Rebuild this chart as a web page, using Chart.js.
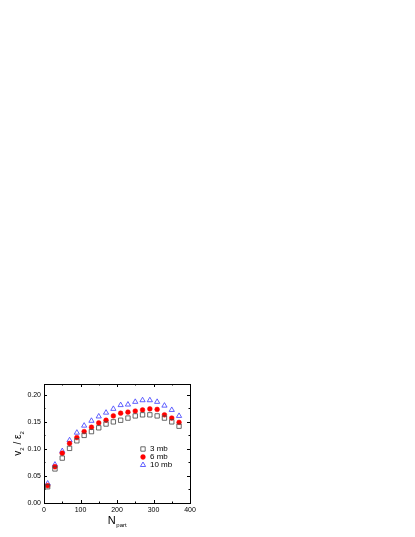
<!DOCTYPE html>
<html>
<head>
<meta charset="utf-8">
<script src="https://cdn.jsdelivr.net/npm/chart.js@4"></script>
<style>
  html, body { margin: 0; padding: 0; background: #fff; }
  canvas { display: block; }
</style>
</head>
<body>
<canvas id="v2Chart" width="415" height="537"></canvas>
<script>
// N_part bins
var npart = [10, 30, 50, 70, 90, 110, 130, 150, 170, 190, 210, 230, 250, 270, 290, 310, 330, 350, 370];

// v2/eps2 for the three cross sections
var v2_3mb = [0.030, 0.063, 0.083, 0.101, 0.115, 0.125, 0.132, 0.139, 0.146, 0.150, 0.153, 0.157, 0.161, 0.163, 0.163, 0.161, 0.157, 0.150, 0.142];
var v2_6mb = [0.032, 0.067, 0.092, 0.110, 0.121, 0.132, 0.140, 0.148, 0.153, 0.161, 0.166, 0.168, 0.170, 0.172, 0.174, 0.173, 0.163, 0.157, 0.149];
var v2_10mb = [0.036, 0.071, 0.096, 0.116, 0.130, 0.143, 0.152, 0.160, 0.167, 0.174, 0.181, 0.182, 0.187, 0.190, 0.190, 0.187, 0.180, 0.172, 0.161];

var seriesLabels = ['3 mb', '6 mb', '10 mb'];
var xTicks = [0, 100, 200, 300, 400];
var yTicks = [0, 0.05, 0.10, 0.15, 0.20];

var FONT = "'Liberation Sans', Arial, sans-serif";

function toPoints(ys) {
    return npart.map(function (x, i) { return { x: x, y: ys[i] }; });
}

// frame with inward ticks on all four sides
var framePlugin = {
    id: 'frame',
    afterDraw: function (chart) {
        var ctx = chart.ctx;
        var a = chart.chartArea;
        var xs = chart.scales.x;
        var ys = chart.scales.y;
        ctx.save();
        ctx.strokeStyle = '#000';
        ctx.lineWidth = 1;
        ctx.strokeRect(a.left + 0.5, a.top + 0.5, a.right - a.left, a.bottom - a.top);

        ctx.beginPath();
        for (var v = 0; v <= 400; v += 50) {
            var px = Math.round(xs.getPixelForValue(v)) + 0.5;
            var len = (v % 100 === 0) ? 3 : 1.5;
            ctx.moveTo(px, a.bottom); ctx.lineTo(px, a.bottom - len);
            ctx.moveTo(px, a.top); ctx.lineTo(px, a.top + len);
        }
        for (var k = 0; k <= 8; k++) {
            var val = k * 0.025;
            var py = Math.round(ys.getPixelForValue(val)) + 0.5;
            var l2 = (k % 2 === 0) ? 3 : 1.5;
            ctx.moveTo(a.left, py); ctx.lineTo(a.left + l2, py);
            ctx.moveTo(a.right, py); ctx.lineTo(a.right - l2, py);
        }
        ctx.stroke();
        ctx.restore();
    }
};

// axis titles with subscripts and the legend box
var labelsPlugin = {
    id: 'labels',
    afterDraw: function (chart) {
        var ctx = chart.ctx;
        var a = chart.chartArea;
        ctx.save();
        ctx.fillStyle = '#000';
        ctx.textBaseline = 'alphabetic';

        // x title: N_part
        var cx = (a.left + a.right) / 2;
        ctx.font = '11px ' + FONT;
        var wN = ctx.measureText('N').width;
        ctx.font = '6px ' + FONT;
        var wSub = ctx.measureText('part').width;
        var x0 = cx - (wN + wSub) / 2;
        ctx.font = '11px ' + FONT;
        ctx.textAlign = 'left';
        ctx.fillText('N', x0, 524);
        ctx.font = '6px ' + FONT;
        ctx.fillText('part', x0 + wN + 0.5, 527);

        // y title: v2 / eps2, rotated
        ctx.translate(21, (a.top + a.bottom) / 2);
        ctx.rotate(-Math.PI / 2);
        var parts = [['v', 10, 0], ['2', 6, 3], [' / ', 10, 0], ['\u03b5', 10, 0], ['2', 6, 3]];
        var total = 0;
        parts.forEach(function (p) {
            ctx.font = p[1] + 'px ' + FONT;
            total += ctx.measureText(p[0]).width;
        });
        var x = -total / 2;
        parts.forEach(function (p) {
            ctx.font = p[1] + 'px ' + FONT;
            ctx.fillText(p[0], x, p[2]);
            x += ctx.measureText(p[0]).width;
        });
        ctx.setTransform(1, 0, 0, 1, 0, 0);

        // legend
        var rowsY = [449, 457, 465];
        chart.data.datasets.forEach(function (ds, i) {
            ctx.fillStyle = ds.backgroundColor;
            ctx.strokeStyle = ds.borderColor;
            ctx.lineWidth = ds.borderWidth;
            Chart.helpers.drawPoint(ctx, {
                pointStyle: ds.pointStyle,
                radius: ds.pointRadius,
                borderWidth: ds.borderWidth,
                rotation: 0
            }, 143, rowsY[i]);
            ctx.fillStyle = '#000';
            ctx.font = '8px ' + FONT;
            ctx.textAlign = 'left';
            ctx.textBaseline = 'middle';
            ctx.fillText(ds.label, 150, rowsY[i]);
        });
        ctx.restore();
    }
};

var ctx = document.getElementById('v2Chart').getContext('2d');
var chart = new Chart(ctx, {
    type: 'scatter',
    data: {
        datasets: [{
            label: seriesLabels[0],
            data: toPoints(v2_3mb),
            pointStyle: 'rect',
            pointRadius: 3.1,
            backgroundColor: 'rgba(0,0,0,0)',
            borderColor: '#444444',
            borderWidth: 0.8
        }, {
            label: seriesLabels[1],
            data: toPoints(v2_6mb),
            pointStyle: 'circle',
            pointRadius: 2.4,
            backgroundColor: '#ff0000',
            borderColor: '#ff0000',
            borderWidth: 0.5
        }, {
            label: seriesLabels[2],
            data: toPoints(v2_10mb),
            pointStyle: 'triangle',
            pointRadius: 3,
            backgroundColor: 'rgba(0,0,0,0)',
            borderColor: '#3b3bff',
            borderWidth: 0.8
        }]
    },
    options: {
        responsive: false,
        animation: false,
        devicePixelRatio: 1,
        layout: {
            padding: { top: 384, right: 225, left: 0, bottom: 0 }
        },
        plugins: {
            legend: { display: false },
            tooltip: { enabled: false }
        },
        scales: {
            x: {
                type: 'linear',
                min: 0,
                max: 400,
                afterFit: function (scale) { scale.height = 34; },
                afterBuildTicks: function (scale) {
                    scale.ticks = xTicks.map(function (v) { return { value: v }; });
                },
                grid: { display: false, drawTicks: false },
                border: { display: false },
                ticks: {
                    padding: 3,
                    color: '#000',
                    font: { family: FONT, size: 7 },
                    maxRotation: 0,
                    callback: function (v) { return String(v); }
                }
            },
            y: {
                type: 'linear',
                min: 0,
                max: 0.22,
                afterFit: function (scale) { scale.width = 44; },
                afterBuildTicks: function (scale) {
                    scale.ticks = yTicks.map(function (v) { return { value: v }; });
                },
                grid: { display: false, drawTicks: false },
                border: { display: false },
                ticks: {
                    padding: 3,
                    color: '#000',
                    font: { family: FONT, size: 7 },
                    callback: function (v) { return v.toFixed(2); }
                }
            }
        }
    },
    plugins: [framePlugin, labelsPlugin]
});
</script>
</body>
</html>
